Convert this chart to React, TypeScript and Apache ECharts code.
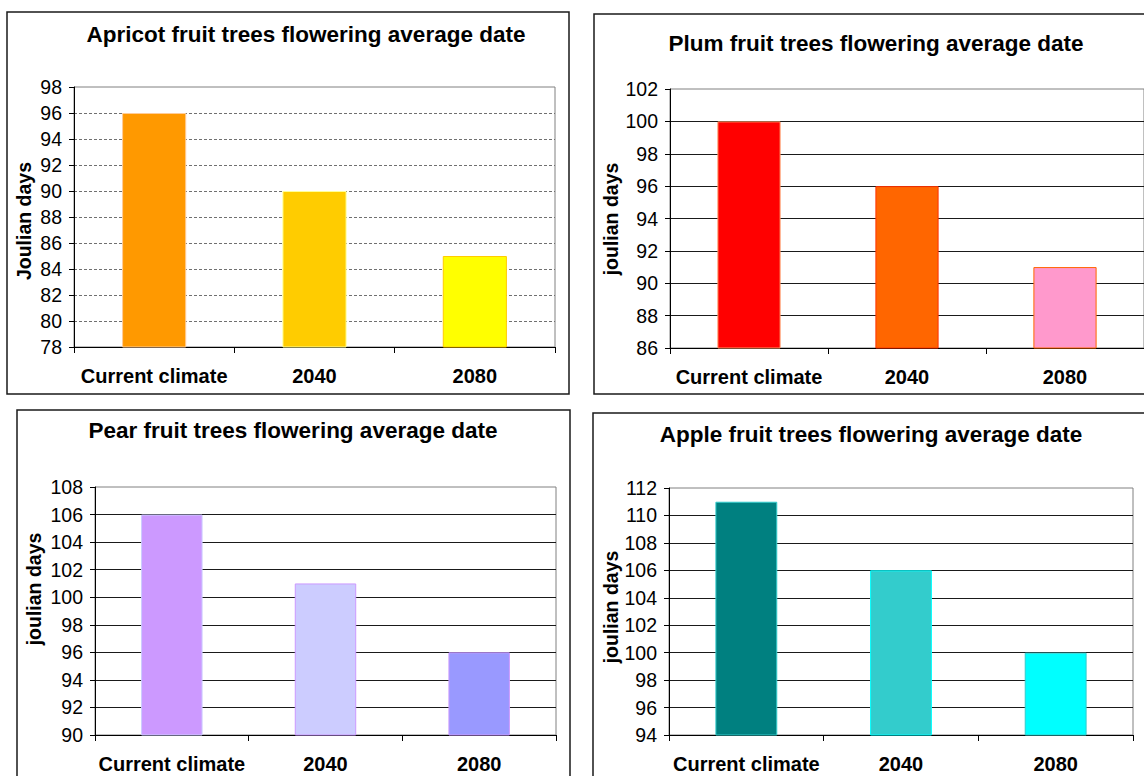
import React, { useEffect, useRef } from "react";
import * as echarts from "echarts";

// Categories shared by all four charts
const categories = ["Current climate", "2040", "2080"];

// Average flowering date (Julian day) per fruit tree
const apricotDays = [96, 90, 85];
const plumDays = [100, 96, 91];
const pearDays = [106, 101, 96];
const appleDays = [111, 106, 100];

// Value-axis ranges [min, max] with a step of 2 days
const apricotRange = [78, 98];
const plumRange = [86, 102];
const pearRange = [90, 108];
const appleRange = [94, 112];
const dayStep = 2;

const FONT = "'Liberation Sans', Arial, sans-serif";

type Panel = {
  title: string;
  yName: string;
  values: number[];
  range: number[];
  grid: { left: number; top: number; width: number; height: number };
  box: number[];
  titleAt: number[];
  nameAt: number[];
  fills: string[];
  edges: string[];
  dashed: boolean;
};

const panels: Panel[] = [
  {
    title: "Apricot fruit trees flowering average date",
    yName: "Joulian days",
    values: apricotDays,
    range: apricotRange,
    grid: { left: 74, top: 87, width: 481, height: 260 },
    box: [7, 12, 562, 382],
    titleAt: [306, 34],
    nameAt: [24, 221],
    fills: ["#FF9900", "#FFCC00", "#FFFF00"],
    edges: ["#FFCC99", "#FFFF99", "#FFCC00"],
    dashed: true,
  },
  {
    title: "Plum fruit trees flowering average date",
    yName: "joulian days",
    values: plumDays,
    range: plumRange,
    grid: { left: 670, top: 89, width: 474, height: 259 },
    box: [594, 14, 600, 380],
    titleAt: [876, 43],
    nameAt: [611, 219],
    fills: ["#FF0000", "#FF6600", "#FF99CC"],
    edges: ["#FF9966", "#FF3300", "#FF6600"],
    dashed: false,
  },
  {
    title: "Pear fruit trees flowering average date",
    yName: "joulian days",
    values: pearDays,
    range: pearRange,
    grid: { left: 95, top: 487, width: 461, height: 248 },
    box: [17, 410, 553, 400],
    titleAt: [293, 430],
    nameAt: [34, 589],
    fills: ["#CC99FF", "#CCCCFF", "#9999FF"],
    edges: ["#CCCCFF", "#CC99FF", "#CC99FF"],
    dashed: false,
  },
  {
    title: "Apple fruit trees flowering average date",
    yName: "joulian days",
    values: appleDays,
    range: appleRange,
    grid: { left: 669, top: 488, width: 464, height: 247 },
    box: [593, 413, 600, 400],
    titleAt: [871, 434],
    nameAt: [611, 607],
    fills: ["#008080", "#33CCCC", "#00FFFF"],
    edges: ["#33CCCC", "#00FFFF", "#33CCCC"],
    dashed: false,
  },
];

function buildOption(): echarts.EChartsOption {
  const grids: any[] = [];
  const xAxes: any[] = [];
  const yAxes: any[] = [];
  const series: any[] = [];
  const graphics: any[] = [];

  panels.forEach((p, i) => {
    graphics.push({
      type: "rect",
      shape: { x: p.box[0], y: p.box[1], width: p.box[2], height: p.box[3] },
      style: { fill: "#fff", stroke: "#1a1a1a", lineWidth: 1.5 },
      z: -10,
      silent: true,
    });
    graphics.push({
      type: "text",
      x: p.titleAt[0],
      y: p.titleAt[1],
      style: {
        text: p.title,
        fontFamily: FONT,
        fontSize: 22.5,
        fontWeight: "bold",
        fill: "#000",
        align: "center",
        verticalAlign: "middle",
      },
      z: 10,
    });
    graphics.push({
      type: "text",
      x: p.nameAt[0],
      y: p.nameAt[1],
      rotation: Math.PI / 2,
      style: {
        text: p.yName,
        fontFamily: FONT,
        fontSize: 19.5,
        fontWeight: "bold",
        fill: "#000",
        align: "center",
        verticalAlign: "middle",
      },
      z: 10,
    });

    grids.push({
      ...p.grid,
      show: true,
      borderColor: "#808080",
      borderWidth: 1,
      backgroundColor: "transparent",
      containLabel: false,
    });

    xAxes.push({
      type: "category",
      gridIndex: i,
      data: categories,
      axisLine: { show: true, lineStyle: { color: "#000", width: 1 } },
      axisTick: { show: true, length: 6, lineStyle: { color: "#000" } },
      axisLabel: {
        interval: 0,
        margin: 19,
        color: "#000",
        fontFamily: FONT,
        fontSize: 20,
        fontWeight: "bold",
      },
      splitLine: { show: false },
    });

    yAxes.push({
      type: "value",
      gridIndex: i,
      min: p.range[0],
      max: p.range[1],
      interval: dayStep,
      axisLine: { show: true, lineStyle: { color: "#000", width: 1 } },
      axisTick: { show: true, length: 5, lineStyle: { color: "#000" } },
      axisLabel: {
        margin: 12,
        color: "#000",
        fontFamily: FONT,
        fontSize: 19.5,
      },
      splitLine: {
        show: true,
        showMinLine: false,
        showMaxLine: false,
        lineStyle: p.dashed
          ? { color: "#707070", width: 1, type: [3, 2] }
          : { color: "#1a1a1a", width: 1 },
      },
    });

    series.push({
      type: "bar",
      xAxisIndex: i,
      yAxisIndex: i,
      barWidth: "40%",
      data: p.values.map((v, k) => ({
        value: v,
        itemStyle: { color: p.fills[k], borderColor: p.edges[k], borderWidth: 1 },
      })),
    });
  });

  return {
    animation: false,
    backgroundColor: "#fff",
    textStyle: { fontFamily: FONT },
    grid: grids,
    xAxis: xAxes,
    yAxis: yAxes,
    series,
    graphic: graphics,
  };
}

export default function App() {
  const ref = useRef<HTMLDivElement>(null);

  useEffect(() => {
    if (!ref.current) return;
    const chart = echarts.init(ref.current, undefined, { renderer: "svg" });
    chart.setOption(buildOption());
    return () => chart.dispose();
  }, []);

  return (
    <div
      ref={ref}
      style={{ position: "fixed", left: 0, top: 0, width: 1144, height: 776, background: "#fff" }}
    />
  );
}
